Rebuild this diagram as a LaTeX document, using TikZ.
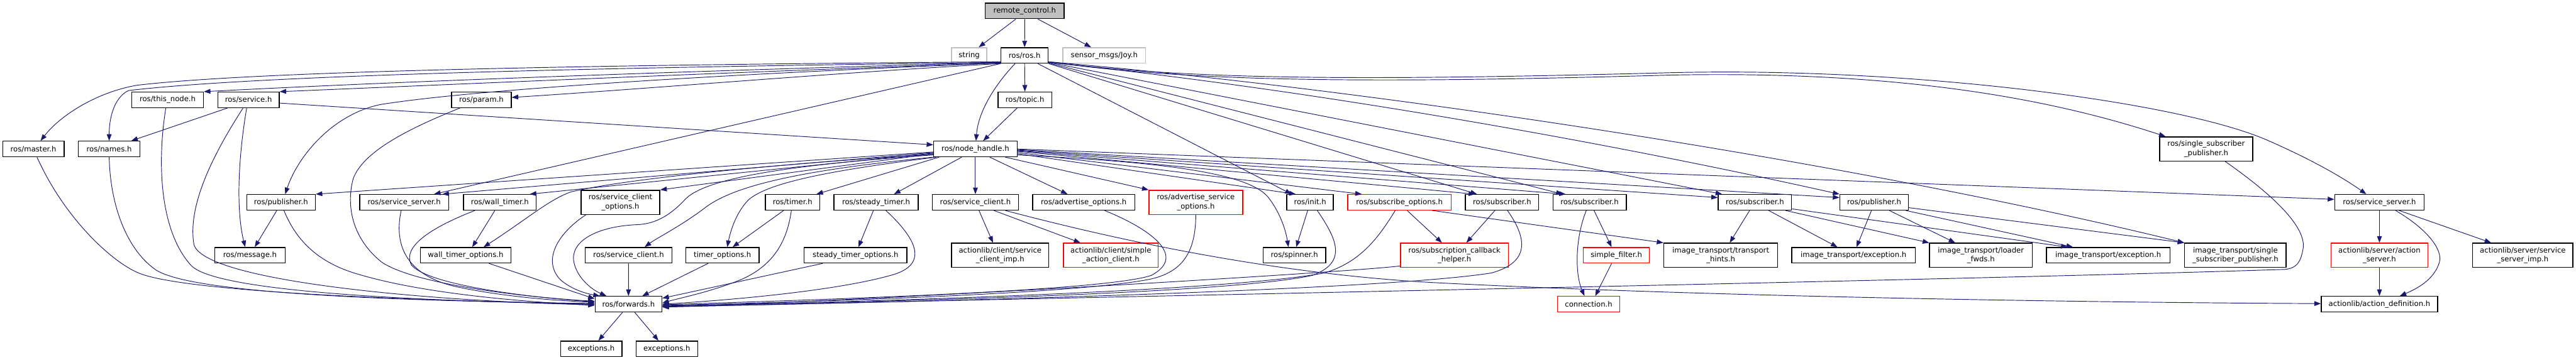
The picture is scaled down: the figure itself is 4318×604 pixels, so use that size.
\documentclass[tikz,border=0pt]{standalone}
\usepackage{fontspec}
\setmainfont{DejaVu Sans}
\usetikzlibrary{arrows.meta}
\definecolor{edgeblue}{HTML}{191970}
\definecolor{grayline}{HTML}{BFBFBF}
\newcommand{\dnfont}{\fontsize{12.3}{15.4}\selectfont}
\tikzset{
  box/.style={draw=black, line width=1.4pt, fill=white, rectangle, inner sep=0pt,
              minimum height=26pt, font=\dnfont, align=center},
  dbl/.style={minimum height=40.5pt},
  redbox/.style={draw=red},
  graybox/.style={draw=grayline},
  e/.style={draw=edgeblue, line width=1pt, -{Triangle[length=11pt,width=8pt]}},
}
\begin{document}
\begin{tikzpicture}[x=1pt,y=-1pt]
\useasboundingbox[fill=white] (0,0) rectangle (4318,604);
% row 1-2
\node[box,fill=grayline,minimum width=132pt] (rc) at (1717.7,18.3) {remote\_control.h};
\node[box,graybox,minimum width=59pt] (str) at (1624.6,93) {string};
\node[box,minimum width=79pt] (ros) at (1717.5,93) {ros/ros.h};
\node[box,graybox,minimum width=139pt] (joy) at (1851,93) {sensor\_msgs/Joy.h};
% row 3
\node[box,minimum width=120pt] (thisnode) at (281,167.5) {ros/this\_node.h};
\node[box,minimum width=103pt] (service) at (416.5,167.5) {ros/service.h};
\node[box,minimum width=100pt] (param) at (807,167.5) {ros/param.h};
\node[box,minimum width=90pt] (topic) at (1718,167.5) {ros/topic.h};
% row 4
\node[box,minimum width=103pt] (master) at (56,250) {ros/master.h};
\node[box,minimum width=103pt] (names) at (183,250) {ros/names.h};
\node[box,minimum width=140pt] (nh) at (1635,250) {ros/node\_handle.h};
\node[box,dbl,minimum width=156pt] (ssp) at (3698,250) {ros/single\_subscriber\\\_publisher.h};
% row 5
\node[box,minimum width=115pt] (pubL) at (471,339.5) {ros/publisher.h};
\node[box,minimum width=149pt] (ssL) at (677.5,339.5) {ros/service\_server.h};
\node[box,minimum width=122pt] (wt) at (838,339.5) {ros/wall\_timer.h};
\node[box,dbl,minimum width=132pt] (sco) at (1040,339.5) {ros/service\_client\\\_options.h};
\node[box,minimum width=91pt] (timer) at (1328.5,339.5) {ros/timer.h};
\node[box,minimum width=141pt] (st) at (1468.5,339.5) {ros/steady\_timer.h};
\node[box,minimum width=144pt] (scA) at (1635,339.5) {ros/service\_client.h};
\node[box,minimum width=171pt] (ao) at (1816.5,339.5) {ros/advertise\_options.h};
\node[box,dbl,redbox,minimum width=157pt] (aso) at (2004.5,339.5) {ros/advertise\_service\\\_options.h};
\node[box,minimum width=78pt] (init) at (2196,339.5) {ros/init.h};
\node[box,redbox,minimum width=173.5pt] (so) at (2345.7,339.5) {ros/subscribe\_options.h};
\node[box,minimum width=123pt] (sub1) at (2517.8,339.5) {ros/subscriber.h};
\node[box,minimum width=123pt] (sub2) at (2664.5,339.5) {ros/subscriber.h};
\node[box,minimum width=123pt] (sub3) at (2941.7,339.5) {ros/subscriber.h};
\node[box,minimum width=115pt] (pub2) at (3141.5,339.5) {ros/publisher.h};
\node[box,minimum width=150pt] (ssR) at (3988.5,339.5) {ros/service\_server.h};
% row 6
\node[box,minimum width=118pt] (msg) at (419,428.3) {ros/message.h};
\node[box,minimum width=152pt] (wto) at (780.6,428.3) {wall\_timer\_options.h};
\node[box,minimum width=145pt] (scB) at (1053.6,428.3) {ros/service\_client.h};
\node[box,minimum width=123pt] (to) at (1211,428.3) {timer\_options.h};
\node[box,minimum width=172pt] (sto) at (1434,428.3) {steady\_timer\_options.h};
\node[box,dbl,minimum width=163pt] (scimp) at (1676.5,428.3) {actionlib/client/service\\\_client\_imp.h};
\node[box,dbl,redbox,minimum width=159pt] (sac) at (1862,428.3) {actionlib/client/simple\\\_action\_client.h};
\node[box,minimum width=105pt] (spin) at (2169.7,428.3) {ros/spinner.h};
\node[box,dbl,redbox,minimum width=181pt] (sch) at (2438,428.3) {ros/subscription\_callback\\\_helper.h};
\node[box,redbox,minimum width=111pt] (sf) at (2709.4,428.3) {simple\_filter.h};
\node[box,dbl,minimum width=191pt] (th) at (2884.4,428.3) {image\_transport/transport\\\_hints.h};
\node[box,minimum width=207pt] (ex1) at (3107,428.3) {image\_transport/exception.h};
\node[box,dbl,minimum width=172pt] (lf) at (3320.4,428.3) {image\_transport/loader\\\_fwds.h};
\node[box,minimum width=207pt] (ex2) at (3533.8,428.3) {image\_transport/exception.h};
\node[box,dbl,minimum width=170pt] (itssp) at (3747,428.3) {image\_transport/single\\\_subscriber\_publisher.h};
\node[box,dbl,redbox,minimum width=163pt] (as) at (3988.5,428.3) {actionlib/server/action\\\_server.h};
\node[box,dbl,minimum width=168pt] (ssimp) at (4228.8,428.3) {actionlib/server/service\\\_server\_imp.h};
% row 7-8
\node[box,minimum width=112pt] (fwd) at (1053.5,510.4) {ros/forwards.h};
\node[box,redbox,minimum width=104pt] (conn) at (2663,510.4) {connection.h};
\node[box,minimum width=195pt] (ad) at (3988.5,510.4) {actionlib/action\_definition.h};
\node[box,minimum width=103pt] (exc1) at (991,585.3) {exceptions.h};
\node[box,minimum width=103pt] (exc2) at (1117.8,585.3) {exceptions.h};

% ---- edges: top
\draw[e] ([xshift=-15]rc.south) -- ([xshift=16]str.north);
\draw[e] (rc.south) -- (ros.north);
\draw[e] ([xshift=22]rc.south) -- ([xshift=-22]joy.north);
\draw[e] (ros.south) -- (topic.north);
\draw[e] ([xshift=-16]ros.south) .. controls (1670,140) and (1640,185) .. ([xshift=1]nh.north);
\draw[e] ([xshift=-13]topic.south) -- ([xshift=13]nh.north);
% ros to the left
\draw[e] ([yshift=2]ros.south west) .. controls (1200,118) and (700,135) .. (thisnode.north east);
\draw[e] ([yshift=1]ros.south west) .. controls (1200,122) and (800,140) .. (service.north east);
\draw[e] (ros.south west) .. controls (1400,122) and (1100,148) .. ([yshift=4]param.east);
\draw[e] ([yshift=3]ros.south west) .. controls (1100,108) and (450,117) .. (230,143) .. controls (160,155) and (100,195) .. ([xshift=12]master.north);
\draw[e] ([yshift=2]ros.south west) .. controls (1100,112) and (450,124) .. (215,152) .. controls (190,165) and (183,200) .. (names.north);
\draw[e] ([yshift=1]ros.south west) .. controls (1200,125) and (800,150) .. (640,175) .. controls (560,190) and (500,260) .. ([xshift=7]pubL.north);
\draw[e] (ros.south west) -- ([xshift=50]ssL.north);
% ros to the right
\draw[e] ([xshift=22]ros.south) -- ([xshift=-31]init.north);
\draw[e] (ros.south east) -- ([xshift=-42]sub1.north);
\draw[e] ([yshift=1]ros.south east) -- ([xshift=-45]sub2.north);
\draw[e] ([yshift=2]ros.south east) -- ([xshift=-55]sub3.north);
\draw[e] ([yshift=2]ros.south east) .. controls (2200,150) and (2700,240) .. (pub2.north west);
\draw[e] ([yshift=3]ros.south east) .. controls (2300,150) and (3100,270) .. (itssp.north west);
\draw[e] ([yshift=3]ros.south east) .. controls (2000,135) and (2300,135) .. (2800,122) .. controls (3200,112) and (3650,170) .. (3800,235) .. controls (3880,270) and (3930,300) .. ([xshift=-22]ssR.north);
\draw[e] ([yshift=3]ros.south east) .. controls (2000,138) and (2300,140) .. (2800,126) .. controls (3200,118) and (3450,170) .. ([xshift=-68]ssp.north);
% node_handle to the left
\draw[e] ([yshift=-5]nh.west) -- (pubL.north east);
\draw[e] ([yshift=-6]nh.west) -- ([xshift=64]ssL.north);
\draw[e] ([yshift=-7]nh.west) -- ([xshift=50]wt.north);
\draw[e] ([yshift=-8]nh.west) -- (sco.north east);
\draw[e] ([yshift=-9]nh.west) .. controls (1300,275) and (1050,300) .. (957,322) .. controls (920,335) and (880,370) .. ([xshift=30]wto.north);
\draw[e] ([yshift=-10]nh.west) .. controls (1350,275) and (1190,295) .. (1150,333) .. controls (1125,360) and (1100,376) .. (1067,377) .. controls (1000,380) and (955,405) .. (962,440) .. controls (967,465) and (990,485) .. ([xshift=-37]fwd.north);
\draw[e] (nh.south west) .. controls (1350,285) and (1230,310) .. (1180,350) .. controls (1140,380) and (1100,400) .. ([xshift=27]scB.north);
\draw[e] ([xshift=5]nh.south west) .. controls (1400,285) and (1290,305) .. (1255,335) .. controls (1235,355) and (1225,385) .. ([xshift=8]to.north);
\draw[e] ([xshift=10]nh.south west) -- ([xshift=40]timer.north);
\draw[e] ([xshift=-23]nh.south) -- ([xshift=30]st.north);
\draw[e] (nh.south) -- (scA.north);
\draw[e] ([xshift=24]nh.south) -- ([xshift=-27]ao.north);
\draw[e] ([xshift=50]nh.south) -- (aso.north west);
% node_handle to the right
\draw[e] ([yshift=-10]nh.east) .. controls (1950,272) and (2090,290) .. (2125,330) .. controls (2145,355) and (2155,385) .. ([xshift=-10]spin.north);
\draw[e] ([yshift=-8]nh.east) -- ([xshift=-24]init.north);
\draw[e] ([yshift=-6]nh.east) -- ([xshift=-63]so.north);
\draw[e] ([yshift=-4]nh.east) -- ([xshift=-45]sub1.north);
\draw[e] ([yshift=-3]nh.east) -- ([xshift=-40]sub2.north);
\draw[e] ([yshift=-2]nh.east) -- ([yshift=8]sub3.west);
\draw[e] ([yshift=-1]nh.east) -- ([yshift=8]pub2.west);
\draw[e] (nh.east) -- ([yshift=5]ssR.west);
% left group down
\draw[e] ([xshift=-7]pubL.south) -- ([xshift=8]msg.north);
\draw[e] ([xshift=5]pubL.south) .. controls (495,400) and (530,440) .. (600,460) .. controls (700,490) and (850,505) .. ([yshift=-2]fwd.west);
\draw[e] ([xshift=-35]service.south) -- ([xshift=37]names.north);
\draw[e] ([xshift=-3]service.south) .. controls (400,260) and (395,350) .. ([xshift=-8]msg.north);
\draw[e] ([xshift=-9]service.south) .. controls (350,270) and (315,350) .. (325,410) .. controls (340,470) and (700,505) .. ([yshift=-1]fwd.west);
\draw[e] ([yshift=-5.5]service.east) -- ([yshift=7]nh.west);
\draw[e] ([xshift=-3]thisnode.south) .. controls (262,280) and (270,390) .. (320,445) .. controls (360,490) and (700,505) .. (fwd.west);
\draw[e] (names.south) .. controls (185,350) and (215,420) .. (260,452) .. controls (320,495) and (700,505) .. ([yshift=1]fwd.west);
\draw[e] ([xshift=6]master.south) .. controls (110,370) and (190,440) .. (230,457) .. controls (300,490) and (700,505) .. ([yshift=1]fwd.west);
\draw[e] ([xshift=-5]ssL.south) .. controls (660,410) and (680,460) .. (760,480) .. controls (850,500) and (950,505) .. ([yshift=3]fwd.west);
\draw[e] ([xshift=-42]wt.south) .. controls (740,375) and (670,410) .. (690,445) .. controls (720,480) and (900,500) .. ([yshift=4]fwd.west);
\draw[e] ([xshift=-36]param.south) .. controls (700,210) and (610,250) .. (592,300) .. controls (580,345) and (590,400) .. (640,440) .. controls (700,480) and (900,500) .. ([yshift=5]fwd.west);
\draw[e] ([xshift=-8.5]wt.south) -- ([xshift=11]wto.north);
\draw[e] ([xshift=39]wto.south) -- ([yshift=9]fwd.west);
\draw[e] ([xshift=-58]sco.south) .. controls (930,395) and (910,440) .. (940,470) .. controls (960,487) and (985,493) .. ([xshift=-48]fwd.north);
\draw[e] (scB.south) -- (fwd.north);
% timers
\draw[e] ([xshift=-15]timer.south) -- ([xshift=17]to.north);
\draw[e] ([xshift=-2]timer.south) .. controls (1320,400) and (1300,445) .. (1240,470) .. controls (1190,490) and (1140,500) .. ([yshift=2]fwd.east);
\draw[e] ([xshift=-24]to.south) -- ([xshift=23]fwd.north);
\draw[e] ([xshift=-4.5]st.south) -- ([xshift=5]sto.north);
\draw[e] ([xshift=16.5]st.south) .. controls (1530,395) and (1560,440) .. (1500,460) .. controls (1400,490) and (1200,505) .. (fwd.east);
\draw[e] ([xshift=-55]sto.south) -- ([yshift=10]fwd.east);
% service client group
\draw[e] ([xshift=6]scA.south) -- ([xshift=-12]scimp.north);
\draw[e] ([xshift=31]scA.south) -- ([xshift=-51]sac.north);
\draw[e] ([xshift=50]scA.south) .. controls (1900,410) and (2150,460) .. (2400,474) .. controls (2800,495) and (3400,507) .. ([yshift=1]ad.west);
\draw[e] ([xshift=35]ao.south) .. controls (1930,385) and (1990,430) .. (1930,462) .. controls (1850,490) and (1300,505) .. ([yshift=-1]fwd.east);
\draw[e] (aso.south) .. controls (2004,420) and (1985,455) .. (1930,468) .. controls (1800,495) and (1300,508) .. ([yshift=-2]fwd.east);
% init / subscribe
\draw[e] ([xshift=-4]init.south) -- ([xshift=3]spin.north);
\draw[e] ([xshift=12]init.south) .. controls (2240,400) and (2260,440) .. (2200,462) .. controls (2050,495) and (1400,508) .. ([yshift=-3]fwd.east);
\draw[e] ([xshift=13]so.south) -- ([xshift=-21]sch.north);
\draw[e] ([xshift=-7]so.south) .. controls (2310,400) and (2280,440) .. (2220,458) .. controls (2050,490) and (1400,508) .. ([yshift=-3]fwd.east);
\draw[e] ([xshift=55]so.south) -- (th.north west);
\draw[e] ([xshift=-12]sub1.south) -- ([xshift=20]sch.north);
\draw[e] ([xshift=9]sub1.south) .. controls (2560,400) and (2565,440) .. (2500,458) .. controls (2300,490) and (1400,510) .. ([yshift=-4]fwd.east);
\draw[e] ([yshift=-18]sch.west) .. controls (2250,458) and (1400,508) .. ([yshift=-4]fwd.east);
\draw[e] ([xshift=-5.5]sub2.south) .. controls (2640,400) and (2640,460) .. ([xshift=-7]conn.north);
\draw[e] ([xshift=7.5]sub2.south) -- ([xshift=-8]sf.north);
\draw[e] ([xshift=-8]sf.south) -- ([xshift=11]conn.north);
% image_transport
\draw[e] ([xshift=-9]sub3.south) -- ([xshift=15]th.north);
\draw[e] ([xshift=23]sub3.south) -- ([xshift=-27]ex1.north);
\draw[e] ([xshift=51]sub3.south) -- (lf.north west);
\draw[e] ([yshift=-11]sub3.east) -- ([xshift=-68]ex2.north);
\draw[e] ([xshift=-4.5]pub2.south) -- ([xshift=5]ex1.north);
\draw[e] ([xshift=25.5]pub2.south) -- ([xshift=-43]lf.north);
\draw[e] ([xshift=53]pub2.south) -- ([xshift=-59]ex2.north);
\draw[e] ([yshift=-9]pub2.east) -- (itssp.north west);
\draw[e] ([xshift=32]ssp.south) .. controls (3800,320) and (3870,380) .. (3860,420) .. controls (3856,440) and (3850,450) .. (3830,452) .. controls (3300,470) and (1500,505) .. ([yshift=-5]fwd.east);
% actionlib server
\draw[e] (ssR.south) -- (as.north);
\draw[e] ([xshift=27]ssR.south) .. controls (4070,385) and (4095,420) .. (4089,440) .. controls (4080,470) and (4050,485) .. ([xshift=34]ad.north);
\draw[e] ([xshift=33]ssR.south) -- ([xshift=-53]ssimp.north);
\draw[e] (as.south) -- (ad.north);
% forwards
\draw[e] ([xshift=-10]fwd.south) -- ([xshift=12]exc1.north);
\draw[e] ([xshift=10.5]fwd.south) -- ([xshift=-14]exc2.north);
\end{tikzpicture}
\end{document}
